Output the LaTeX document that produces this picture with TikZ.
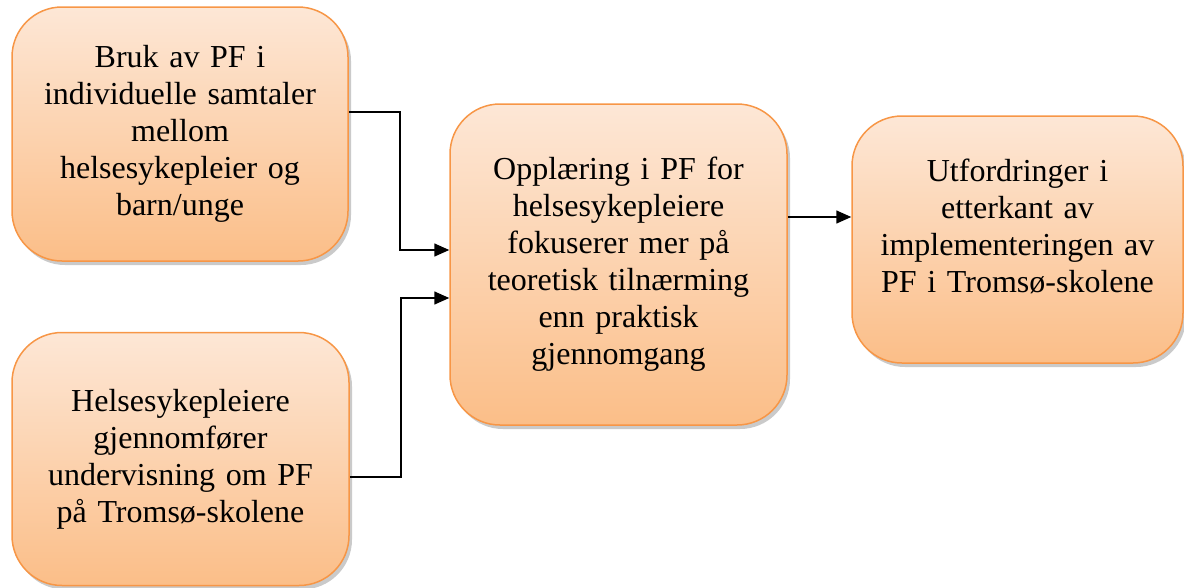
\documentclass[tikz,border=0pt]{standalone}
\usepackage{fontspec}
\setmainfont{Liberation Serif}
\newfontfamily\boxfont{Liberation Serif}
\usetikzlibrary{shadows,arrows.meta}
\definecolor{boxtop}{HTML}{FDE7D6}
\definecolor{boxbot}{HTML}{FBBE88}
\definecolor{boxline}{HTML}{F79646}
\tikzset{
  pbox/.style={draw=boxline, line width=1.5pt, rounded corners=50pt,
    top color=boxtop, bottom color=boxbot,
    drop shadow={shadow xshift=3pt, shadow yshift=-4pt, opacity=0.35, fill=black!60},
    align=center, font=\boxfont\fontsize{32}{37}\selectfont, text width=315pt, inner sep=0pt},
  arr/.style={line width=1.5pt, -{Triangle[length=15pt,width=13pt]}}
}
\begin{document}
\begin{tikzpicture}[x=1pt,y=-1pt]
\useasboundingbox (0,0) rectangle (1184,587);
\node[pbox, minimum width=336pt, minimum height=254pt] (A) at (180,134)
  {Bruk av PF i\\ individuelle samtaler\\ mellom\\ helsesykepleier og\\ barn/unge};
\node[pbox, minimum width=337pt, minimum height=253pt] (B) at (180.5,459)
  {Helsesykepleiere\\ gjennomfører\\ undervisning om PF\\ på Tromsø-skolene};
\node[pbox, minimum width=337pt, minimum height=321pt] (C) at (618.5,264.5)
  {Opplæring i PF for\\ helsesykepleiere\\ fokuserer mer på\\ teoretisk tilnærming\\ enn praktisk\\ gjennomgang};
\node[pbox, minimum width=331pt, minimum height=247pt, text width=310pt] (D) at (1017.5,239.5)
  {Utfordringer i\\ etterkant av\\ implementeringen av\\ PF i Tromsø-skolene\\[-10pt]\mbox{}};
\draw[arr] ([yshift=22pt]A.east) -- ++(51,0) |- ([yshift=14.5pt]C.west);
\draw[arr] ([yshift=-18pt]B.east) -- ++(51,0) |- ([yshift=-33.5pt]C.west);
\draw[arr] ([yshift=47.5pt]C.east) -- ([yshift=47.5pt]C.east -| D.west);
\end{tikzpicture}
\end{document}
